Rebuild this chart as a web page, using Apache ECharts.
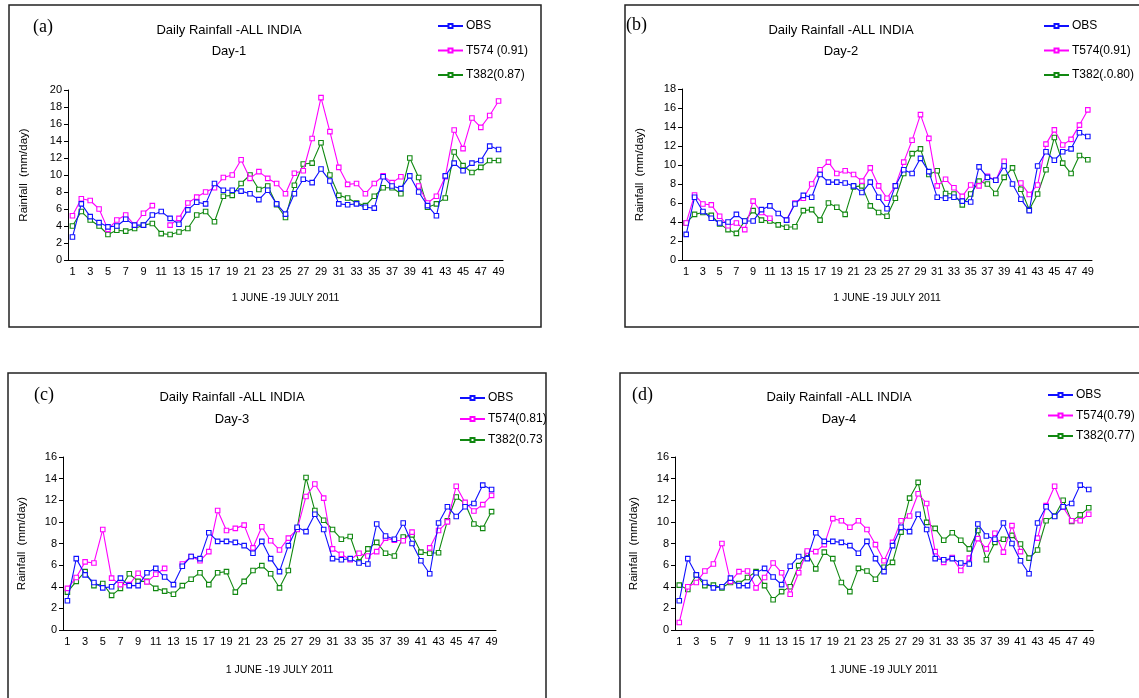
<!DOCTYPE html>
<html><head><meta charset="utf-8">
<script src="https://cdn.jsdelivr.net/npm/echarts@6/dist/echarts.min.js"></script>
<style>html,body{margin:0;padding:0;background:#fff}#c{width:1139px;height:698px}</style>
</head><body><div id="c"></div><script>
const days = ['1','2','3','4','5','6','7','8','9','10','11','12','13','14','15','16','17','18','19','20','21','22','23','24','25','26','27','28','29','30','31','32','33','34','35','36','37','38','39','40','41','42','43','44','45','46','47','48','49'];

const OBS = [2.7, 6.6, 5.1, 4.4, 3.9, 4.0, 4.8, 4.1, 4.1, 5.3, 5.7, 4.9, 4.2, 5.9, 6.8, 6.6, 9.0, 8.2, 8.2, 8.1, 7.8, 7.1, 8.2, 6.6, 5.4, 7.8, 9.5, 9.1, 10.7, 9.3, 6.6, 6.5, 6.6, 6.2, 6.1, 9.8, 8.7, 8.4, 9.9, 8.0, 6.4, 5.2, 9.9, 11.4, 10.5, 11.4, 11.7, 13.4, 13.0];

const T574_day1 = [5.2, 7.2, 7.0, 6.0, 3.6, 4.7, 5.3, 4.1, 5.5, 6.4, null, 4.1, 4.9, 6.7, 7.4, 8.0, 8.5, 9.7, 10.0, 11.8, 9.6, 10.4, 9.6, 9.0, 7.8, 10.2, 10.5, 14.3, 19.1, 15.1, 10.9, 8.9, 9.0, 7.8, 9.0, 9.9, 9.1, 9.8, null, 8.7, 6.7, 7.5, 9.8, 15.3, 13.1, 16.7, 15.6, 17.0, 18.7];
const T382_day1 = [4.0, 5.7, 4.7, 4.0, 3.0, 3.5, 3.4, 3.7, 4.1, 4.3, 3.1, 3.0, 3.3, 3.7, 5.3, 5.7, 4.5, 7.5, 7.6, 9.0, 10.0, 8.3, 8.7, 6.5, 5.0, 8.8, 11.3, 11.4, 13.8, 10.0, 7.6, 7.3, 6.7, 6.4, 7.5, 8.5, 8.5, 7.8, 12.0, 9.7, 6.2, 6.6, 7.3, 12.7, 11.1, 10.3, 10.9, 11.7, 11.7];

const T574_day2 = [3.9, 6.85, 5.9, 5.8, 4.6, 3.6, 3.9, 3.2, 6.2, 5.0, 4.4, null, 4.2, 6.0, 6.5, 8.0, 9.5, 10.3, 9.1, 9.4, 9.0, 8.3, 9.7, 7.8, 6.5, 7.8, 10.3, 12.6, 15.3, 12.8, 7.8, 8.5, 7.6, 6.7, 7.9, 7.8, 8.8, 8.4, 10.4, null, 8.1, 6.9, 7.9, 12.2, 13.7, 12.1, 12.7, 14.2, 15.8];
const T382_day2 = [3.9, 4.8, 5.0, 4.7, 3.8, 3.2, 2.8, 4.1, 5.2, 4.2, 4.1, 3.7, 3.45, 3.5, 5.2, 5.3, 4.2, 6.0, 5.55, 4.8, 7.7, 7.8, 5.7, 5.0, 4.6, 6.5, 9.1, 11.2, 11.7, 9.0, 9.4, 7.0, 6.95, 5.8, 6.95, 8.3, 8.0, 7.0, 8.7, 9.7, 7.45, 5.3, 6.95, 9.5, 12.9, 10.2, 9.1, 11.0, 10.55];

const T574_day3 = [3.85, 4.85, 6.3, 6.2, 9.3, 4.8, 4.2, 4.2, 5.25, 4.45, 5.15, 5.7, null, 6.1, 6.8, 6.4, 7.25, 11.05, 9.2, 9.4, 9.7, 7.6, 9.55, 8.25, 7.4, 8.5, 9.3, 12.35, 13.5, 12.2, 7.5, 7.0, 6.5, 7.1, 6.85, 7.25, 8.5, 8.3, 8.25, 9.05, null, 7.6, 9.2, 10.0, 13.3, 11.8, 11.0, 11.6, 12.45];
const T382_day3 = [3.5, 4.5, 5.4, 4.1, 4.3, 3.2, 3.85, 5.2, 4.5, 4.5, 3.85, 3.6, 3.3, 4.1, 4.7, 5.3, 4.2, 5.3, 5.4, 3.5, 4.5, 5.5, 5.95, 5.2, 3.9, 5.5, 9.4, 14.1, 11.05, 10.15, 9.3, 8.4, 8.65, 6.3, 7.5, 8.1, 7.1, 6.85, 8.6, 8.8, 7.2, 7.1, 7.15, 10.1, 12.3, 11.7, 9.8, 9.4, 10.95];

const T574_day4 = [0.7, 4.0, 4.4, 5.45, 6.1, 8.0, 4.5, 5.4, 5.45, 3.9, 4.85, 6.2, 5.3, 3.3, 5.3, 7.3, 7.25, 7.9, 10.3, 10.1, 9.5, 10.1, 9.3, 7.9, 6.4, 8.1, 10.1, 10.55, 12.6, 11.7, 7.25, 6.25, 6.7, 5.5, 6.65, 8.45, 7.5, 8.95, 7.2, 9.65, 7.25, null, 8.5, 11.5, 13.3, 11.35, 10.1, 10.1, 10.7];
const T382_day4 = [4.15, 3.75, 5.1, 4.1, 4.15, 3.9, 4.4, 4.3, 4.85, 5.4, 4.1, 2.8, 3.55, 4.0, 5.95, 7.1, 5.65, 7.2, 6.6, 4.4, 3.55, 5.7, 5.45, 4.7, 5.8, 6.25, 9.05, 12.2, 13.65, 9.95, 9.4, 8.3, 9.0, 8.3, 7.5, 9.2, 6.5, 8.1, 8.4, 8.75, 7.95, 6.65, 7.4, 10.1, 10.55, 12.0, 10.05, 10.65, 11.3];

const panelLabels = ['(a)', '(b)', '(c)', '(d)'];
const dayTitles = ['Day-1', 'Day-2', 'Day-3', 'Day-4'];
const mainTitle = 'Daily Rainfall -ALL INDIA';
const legendNames = [
  ['OBS', 'T574 (0.91)', 'T382(0.87)'],
  ['OBS', 'T574(0.91)', 'T382(.0.80)'],
  ['OBS', 'T574(0.81)', 'T382(0.73'],
  ['OBS', 'T574(0.79)', 'T382(0.77)']
];
const yMax = [20, 18, 16, 16];
const xName = '1 JUNE -19 JULY 2011';
const yName = 'Rainfall  (mm/day)';

const modelData = [
  [OBS, T574_day1, T382_day1],
  [OBS, T574_day2, T382_day2],
  [OBS, T574_day3, T382_day3],
  [OBS, T574_day4, T382_day4]
];

const colors = ['#1010ff', '#ff00ff', '#118811'];
const font = 'Liberation Sans, Arial, sans-serif';

const grids = [
  {left: 68, top: 90, width: 435, height: 170},
  {left: 682, top: 89, width: 410, height: 171},
  {left: 63, top: 457, width: 433, height: 173},
  {left: 675, top: 457, width: 418, height: 173}
];
const yNameGap = [38, 36, 35, 35];
const xNameGap = [33, 33, 35, 35];
const legendPos = [
  {left: 437, top: 20, gap: 12.5},
  {left: 1043, top: 20, gap: 12.5},
  {left: 459, top: 392, gap: 9},
  {left: 1047, top: 389, gap: 8.5}
];
const titlePos = [
  {x: 229, y1: 30, y2: 51},
  {x: 841, y1: 30, y2: 51},
  {x: 232, y1: 397, y2: 419},
  {x: 839, y1: 397, y2: 419}
];
const labelPos = [[33, 27], [626, 25], [34, 395], [632, 395]];
const boxes = [
  {x: 9, y: 5, width: 532, height: 322},
  {x: 625, y: 5, width: 530, height: 322},
  {x: 8, y: 373, width: 538, height: 340},
  {x: 620, y: 373, width: 535, height: 340}
];

const xAxes = [], yAxes = [], series = [], legends = [], graphics = [];
for (let p = 0; p < 4; p++) {
  xAxes.push({
    type: 'category', gridIndex: p, data: days, boundaryGap: true,
    name: xName, nameLocation: 'middle', nameGap: xNameGap[p],
    nameTextStyle: {fontFamily: font, fontSize: 10.5, color: '#000'},
    axisLine: {lineStyle: {color: '#000', width: 1}},
    axisTick: {interval: 0, length: 4, lineStyle: {color: '#000'}},
    axisLabel: {interval: 1, fontFamily: font, fontSize: 11, color: '#000', margin: 6},
    splitLine: {show: false}
  });
  yAxes.push({
    type: 'value', gridIndex: p, min: 0, max: yMax[p], interval: 2,
    name: yName, nameLocation: 'middle', nameGap: yNameGap[p], nameRotate: 90,
    nameTextStyle: {fontFamily: font, fontSize: 11.5, color: '#000'},
    axisLine: {show: true, lineStyle: {color: '#000', width: 1}},
    axisTick: {show: true, length: 4, lineStyle: {color: '#000'}},
    axisLabel: {fontFamily: font, fontSize: 11, color: '#000', margin: 6},
    splitLine: {show: false}
  });
  for (let s = 0; s < 3; s++) {
    series.push({
      type: 'line', name: legendNames[p][s], xAxisIndex: p, yAxisIndex: p,
      data: modelData[p][s], connectNulls: false,
      symbol: 'rect', symbolSize: 4.5, showSymbol: true,
      lineStyle: {color: colors[s], width: 1.1},
      itemStyle: {color: '#fff', borderColor: colors[s], borderWidth: 1.1},
      z: 3 - s,
      animation: false
    });
  }
  legends.push({
    orient: 'vertical', left: legendPos[p].left, top: legendPos[p].top,
    padding: 0,
    itemGap: legendPos[p].gap, itemWidth: 25, itemHeight: 5,
    selectedMode: false,
    data: legendNames[p],
    textStyle: {fontFamily: font, fontSize: 12, color: '#000', padding: [0, 0, 0, -2]}
  });
  graphics.push({
    type: 'rect', shape: boxes[p], silent: true,
    style: {fill: 'none', stroke: '#222', lineWidth: 1.5}
  });
  graphics.push({
    type: 'text', x: titlePos[p].x, y: titlePos[p].y1,
    style: {text: mainTitle, font: '13px ' + font, fill: '#000', textAlign: 'center', textVerticalAlign: 'middle'}
  });
  graphics.push({
    type: 'text', x: titlePos[p].x, y: titlePos[p].y2,
    style: {text: dayTitles[p], font: '13px ' + font, fill: '#000', textAlign: 'center', textVerticalAlign: 'middle'}
  });
  graphics.push({
    type: 'text', x: labelPos[p][0], y: labelPos[p][1],
    style: {text: panelLabels[p], font: '18px Liberation Serif, Times New Roman, serif', fill: '#000', textAlign: 'left', textVerticalAlign: 'middle'}
  });
}

const chart = echarts.init(document.getElementById('c'), null, {renderer: 'canvas'});
chart.setOption({
  backgroundColor: '#fff',
  animation: false,
  grid: grids,
  xAxis: xAxes,
  yAxis: yAxes,
  legend: legends,
  series: series,
  graphic: graphics
});
</script></body></html>
